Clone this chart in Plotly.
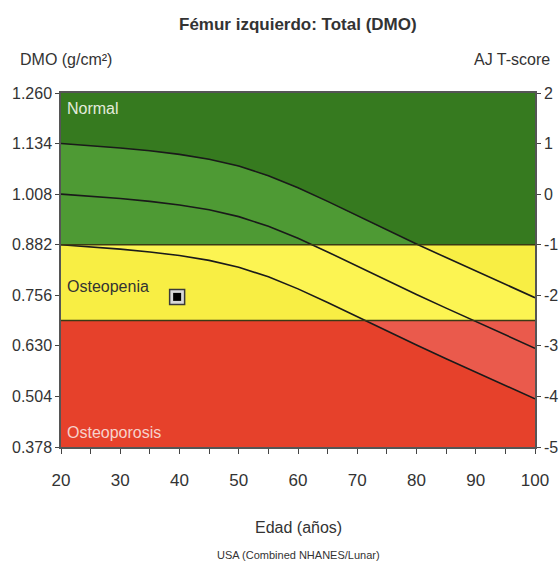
import numpy as np
import plotly.graph_objects as go

# ---------------- data ----------------
ages = [20, 25, 30, 35, 40, 45, 50, 55, 60, 65, 70, 75, 80, 85, 90, 95, 100]
curve_plus1 = [1.134, 1.129, 1.123, 1.116, 1.107, 1.095, 1.078, 1.054, 1.024,
               0.990, 0.954, 0.918, 0.884, 0.850, 0.817, 0.783, 0.750]
curve_mean = [1.008, 1.003, 0.997, 0.990, 0.981, 0.969, 0.952, 0.928, 0.898,
              0.864, 0.828, 0.792, 0.758, 0.724, 0.691, 0.657, 0.624]
curve_minus1 = [0.882, 0.877, 0.871, 0.864, 0.855, 0.843, 0.826, 0.802, 0.772,
                0.738, 0.702, 0.666, 0.632, 0.598, 0.565, 0.531, 0.498]

patient_age = [39.6]
patient_bmd = [0.752]

bmd_ticks = [0.378, 0.504, 0.630, 0.756, 0.882, 1.008, 1.134, 1.260]
bmd_ticklabels = ["0.378", "0.504", "0.630", "0.756", "0.882", "1.008", "1.134", "1.260"]
tscore_ticks = [-5, -4, -3, -2, -1, 0, 1, 2]
tscore_ticklabels = ["-5", "-4", "-3", "-2", "-1", "0", "1", "2"]
age_ticks = [20, 25, 30, 35, 40, 45, 50, 55, 60, 65, 70, 75, 80, 85, 90, 95, 100]
age_ticklabels = ["20", "", "30", "", "40", "", "50", "", "60", "", "70", "", "80", "", "90", "", "100"]

band_names = ["Normal", "Osteopenia", "Osteoporosis"]
band_low = [0.882, 0.693, 0.378]
band_high = [1.260, 0.882, 0.693]

# ---------------- styles ----------------
band_dark = ["#367a1f", "#f8ee44", "#e6412b"]
band_light = ["#4e9a34", "#fcf452", "#ea5a4c"]
label_colors = ["#e4ecdc", "#333333", "#f6d2cc"]
FONT = "Liberation Sans, Arial, sans-serif"
TXT = "#333333"

fig = go.Figure()

# band backgrounds
for lo, hi, col in zip(band_low, band_high, band_dark):
    fig.add_shape(type="rect", xref="x", yref="y", x0=20, x1=100, y0=lo, y1=hi,
                  fillcolor=col, line_width=0, layer="below")

# lighter fill between +1 and -1 curves, per band
grid = np.linspace(ages[0], ages[-1], 641)
top_i = np.interp(grid, ages, curve_plus1)
bot_i = np.interp(grid, ages, curve_minus1)
for lo, hi, col in zip(band_low, band_high, band_light):
    fig.add_trace(go.Scatter(x=grid, y=np.clip(bot_i, lo, hi), mode="lines",
                             line=dict(width=0), hoverinfo="skip", showlegend=False))
    fig.add_trace(go.Scatter(x=grid, y=np.clip(top_i, lo, hi), mode="lines",
                             line=dict(width=0), fill="tonexty", fillcolor=col,
                             hoverinfo="skip", showlegend=False))

# reference curves
for c in (curve_plus1, curve_mean, curve_minus1):
    fig.add_trace(go.Scatter(x=ages, y=c, mode="lines",
                             line=dict(color="#1a1a1a", width=1.6),
                             hoverinfo="skip", showlegend=False))

# band boundary lines
for lvl in band_low[:2]:
    fig.add_shape(type="line", xref="x", yref="y", x0=20, x1=100, y0=lvl, y1=lvl,
                  line=dict(color="#3a3a14", width=1.5), layer="above")

# patient marker
fig.add_trace(go.Scatter(x=patient_age, y=patient_bmd, mode="markers",
                         marker=dict(symbol="square", size=15, color="#d8d8d8",
                                     line=dict(color="#3a3a3a", width=1.5)),
                         hoverinfo="skip", showlegend=False))
fig.add_trace(go.Scatter(x=patient_age, y=patient_bmd, mode="markers",
                         marker=dict(symbol="square", size=8, color="#000000",
                                     line=dict(width=0)),
                         hoverinfo="skip", showlegend=False))

# dummy trace for right axis
fig.add_trace(go.Scatter(x=[20], y=[0], yaxis="y2", mode="markers",
                         marker=dict(opacity=0), hoverinfo="skip", showlegend=False))

# band labels
label_y = [1.260, 0.777, 0.413]
label_anchor = ["top", "middle", "middle"]
label_shift = [-5, 0, 0]
for name, yy, anc, sh, col in zip(band_names, label_y, label_anchor, label_shift, label_colors):
    fig.add_annotation(x=20, y=yy, xref="x", yref="y", text=name, showarrow=False,
                       xanchor="left", yanchor=anc, xshift=4, yshift=sh,
                       font=dict(family=FONT, size=16, color=col))

# titles
def paper_y(py):
    return (447 - py) / 354.0

fig.add_annotation(x=0.5, y=paper_y(24), xref="paper", yref="paper",
                   text="<b>Fémur izquierdo: Total (DMO)</b>", showarrow=False,
                   xanchor="center", yanchor="middle",
                   font=dict(family=FONT, size=17, color=TXT))
fig.add_annotation(x=-61 / 474.0 + 18 / 474.0, y=paper_y(59), xref="paper", yref="paper",
                   text="DMO (g/cm²)", showarrow=False, xanchor="left", yanchor="middle",
                   font=dict(family=FONT, size=16, color=TXT))
fig.add_annotation(x=(552 - 61) / 474.0, y=paper_y(59), xref="paper", yref="paper",
                   text="AJ T-score", showarrow=False, xanchor="right", yanchor="middle",
                   font=dict(family=FONT, size=16, color=TXT))
fig.add_annotation(x=(298 - 61) / 474.0, y=paper_y(527), xref="paper", yref="paper",
                   text="Edad (años)", showarrow=False, xanchor="center", yanchor="middle",
                   font=dict(family=FONT, size=16, color=TXT))
fig.add_annotation(x=(298 - 61) / 474.0, y=paper_y(555), xref="paper", yref="paper",
                   text="USA (Combined NHANES/Lunar)", showarrow=False,
                   xanchor="center", yanchor="middle",
                   font=dict(family=FONT, size=11, color=TXT))

fig.update_layout(
    width=560, height=568,
    margin=dict(l=61, r=25, t=93, b=121, autoexpand=False),
    paper_bgcolor="white", plot_bgcolor="white",
    showlegend=False,
    xaxis=dict(range=[20, 100], tickvals=age_ticks, ticktext=age_ticklabels,
               ticks="outside", ticklen=5, tickcolor="#444", showgrid=False,
               zeroline=False, showline=True, linecolor="#555", linewidth=1.5,
               mirror=True, ticklabelstandoff=12, automargin=False,
               tickfont=dict(family=FONT, size=17, color=TXT)),
    yaxis=dict(range=[0.378, 1.260], tickvals=bmd_ticks, ticktext=bmd_ticklabels,
               ticks="outside", ticklen=4, tickcolor="#444", showgrid=False,
               zeroline=False, showline=True, linecolor="#555", linewidth=1.5,
               automargin=False,
               tickfont=dict(family=FONT, size=16, color=TXT)),
    yaxis2=dict(range=[-5, 2], overlaying="y", side="right", tickvals=tscore_ticks,
                ticktext=tscore_ticklabels, ticks="outside", ticklen=4, tickcolor="#444",
                showgrid=False, zeroline=False, showline=True, linecolor="#555",
                linewidth=1.5, automargin=False,
                tickfont=dict(family=FONT, size=16, color=TXT)),
)

fig.write_html("out.html")
